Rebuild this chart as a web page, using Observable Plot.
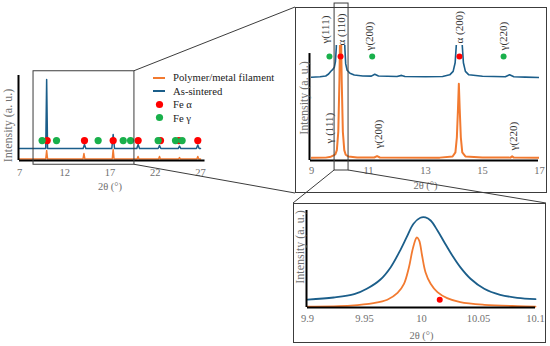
<!DOCTYPE html>
<html><head><meta charset="utf-8">
<script src="https://cdn.jsdelivr.net/npm/d3@7"></script>
<script src="https://cdn.jsdelivr.net/npm/@observablehq/plot@0.6"></script>
<style>
html,body{margin:0;padding:0;background:#fff;}
#fig{position:relative;width:550px;height:346px;overflow:hidden;background:#fff;font-family:"Liberation Serif","Times New Roman",serif;}
#legend{position:absolute;left:150px;top:71px;font-size:10.7px;color:#222;line-height:1;}
#legend .row{display:flex;align-items:center;height:13.4px;white-space:nowrap;}
#legend .sw{width:18px;height:13px;display:flex;justify-content:center;align-items:center;margin-right:5px;}
</style></head><body><div id="fig"></div>
<script>
// ---------- data ----------
const overviewTicks = [7, 12, 17, 22, 27];
const detailTicks = [9, 11, 13, 15, 17];
const zoomTicks = [9.9, 9.95, 10, 10.05, 10.1];

const legendLabels = ["Polymer/metal filament", "As-sintered", "Fe α", "Fe γ"];
const axisTitle = "2θ (°)";
const intensityTitle = "Intensity (a. u.)";

// overview panel: [2θ, intensity]
const ovFilament = [[7,1.8],[9.9,1.8],[10.0,11.8],[10.1,1.8],[14.02,1.8],[14.12,8.2],[14.22,1.8],[17.25,1.8],[17.35,12.9],[17.45,1.8],[20.0,1.8],[20.1,4.7],[20.2,1.8],[22.37,1.8],[22.47,4.7],[22.57,1.8],[24.58,1.8],[24.68,3.5],[24.78,1.8],[26.6,1.8],[26.7,4.7],[26.8,1.8],[27,1.8]];
const ovSintered = [[7,14.1],[9.9,14.1],[10.0,95.3],[10.1,14.1],[14.03,14.1],[14.18,18.8],[14.33,14.1],[17.2,14.1],[17.35,30.6],[17.5,14.1],[19.96,14.1],[20.11,18.8],[20.26,14.1],[22.32,14.1],[22.47,17.6],[22.62,14.1],[24.53,14.1],[24.68,17],[24.83,14.1],[26.55,14.1],[26.7,18.2],[26.85,14.1],[27,14.1]];
const ovAlpha = [10.06, 14.18, 17.35, 20.11, 22.58, 24.61, 26.7];
const ovGamma = [9.5, 11.09, 15.69, 18.46, 19.27, 22.32, 24.24, 24.97];
const ovMarkerLevel = 23.5;
const ovZoomBox = {x1: 8.55, x2: 19.7, y1: -5, y2: 105};

// detail panel 9–17°
const dtFilament = [[9.0,2.3],[9.5,2.5],[9.68,3.3],[9.78,4.5],[9.84,5.5],[9.89,9],[9.94,25],[9.98,70],[10.02,140],[10.06,70],[10.1,25],[10.15,9],[10.2,5],[10.3,3.4],[10.6,2.7],[11.2,2.6],[11.3,3.8],[11.4,2.6],[13.5,2.5],[13.95,3.5],[14.05,7],[14.1,20],[14.14,45],[14.17,66.7],[14.2,45],[14.24,20],[14.29,7],[14.4,3.5],[15.0,2.6],[15.98,2.5],[16.04,3.6],[16.1,2.5],[17.0,2.3]];
const dtSintered = [[9.0,72.4],[9.3,72.8],[9.5,73.5],[9.6,75.2],[9.68,77.6],[9.74,79],[9.8,81],[9.84,86],[9.87,98],[9.89,120],[10.02,170],[10.15,120],[10.17,98],[10.2,84],[10.25,78.5],[10.35,75.8],[10.5,74.3],[10.8,73.5],[11.1,73.4],[11.22,75],[11.35,73.5],[12.0,73.1],[12.16,74],[12.28,73],[13.0,72.8],[13.6,73],[13.85,74.5],[13.97,77.5],[14.04,85],[14.08,100],[14.19,150],[14.29,100],[14.33,85],[14.4,77.5],[14.52,74.5],[15.0,73.2],[15.8,72.8],[15.95,74.5],[16.1,72.8],[16.5,72.5],[17.0,72.2]];
const dtAlpha = [10.02, 14.19];
const dtGamma = [9.63, 11.13, 15.74];
const dtMarkerLevel = 90.4;
const dtAxisTop = 93;
const dtZoomBox = {x1: 9.81, x2: 10.3, y1: -8.7, y2: 136.5};
const dtLabels = [
  {x: 9.49, y: 101.7, t: "γ(111)"},
  {x: 10.05, y: 100, t: "α (110)"},
  {x: 11.04, y: 95.7, t: "γ(200)"},
  {x: 14.19, y: 101.7, t: "α (200)"},
  {x: 15.74, y: 95.7, t: "γ(220)"},
  {x: 9.63, y: 14.8, t: "γ (111)"},
  {x: 11.35, y: 10.4, t: "γ(200)"},
  {x: 16.09, y: 8.7, t: "γ(220)"}
];

// zoom panel 9.9–10.1°
const zmSintered = [[9.9,8.2],[9.923,10.3],[9.941,13.7],[9.952,19.3],[9.964,28.9],[9.973,41.6],[9.982,60.5],[9.987,72.5],[9.993,86.3],[9.999,92.5],[10.0035,92.8],[10.008,89.7],[10.014,79.4],[10.02,67.3],[10.027,53.6],[10.034,41.6],[10.043,29.6],[10.055,19.3],[10.069,13.1],[10.084,10],[10.1,8.6]];
const zmFilament = [[9.9,1],[9.938,2],[9.958,4.5],[9.97,8],[9.979,15],[9.9845,24],[9.989,41.5],[9.992,58.8],[9.995,70.8],[9.996,72.2],[9.998,69],[10.0005,53.6],[10.0035,36.4],[10.008,24.4],[10.014,15.8],[10.0225,9.6],[10.034,5.5],[10.055,2.8],[10.084,1.4],[10.1,1]];
const zmAlpha = [{x: 10.016, y: 8}];

// ---------- style ----------
const font = '"Liberation Serif","Times New Roman",serif';
const C = {filament: "#f27a30", sintered: "#1b5e8a", alpha: "#ff0000", gamma: "#19b04b", text: "#707070", label: "#333", box: "#3c3c3c"};
const fx = d => d[0], fy = d => d[1];
const baseStyle = {fontFamily: font, fontSize: "10.5px", color: C.text, background: "transparent", overflow: "visible"};

const fig = document.getElementById("fig");
function place(svg, L) {
  svg.style.position = "absolute";
  svg.style.left = L.left + "px";
  svg.style.top = L.top + "px";
  fig.appendChild(svg);
  return svg;
}
function xAxis(ticks, pad) {
  return Plot.axisX({ticks, tickSize: 0, tickPadding: pad, tickFormat: d => String(d), label: null, fontFamily: font, fontSize: 10.5, fill: C.text});
}
function yTitle(dx, dy) {
  return Plot.text([intensityTitle], {text: d => d, frameAnchor: "left", textAnchor: "middle", lineAnchor: "middle", rotate: -90, dx, dy, fontSize: 12, fontFamily: font, fill: C.text});
}
function xTitle(dy) {
  return Plot.text([axisTitle], {text: d => d, frameAnchor: "bottom", textAnchor: "middle", lineAnchor: "middle", dy, fontSize: 10.5, fontFamily: font, fill: C.text});
}

// ---------- panel 1: overview ----------
const L1 = {left: 0, top: 40, width: 215, height: 155};
const p1 = Plot.plot({
  width: L1.width, height: L1.height,
  marginLeft: 19, marginRight: 15, marginTop: 35, marginBottom: 35,
  style: baseStyle,
  x: {domain: [7, 27]},
  y: {domain: [0, 100], axis: null},
  marks: [
    Plot.line(ovFilament, {x: fx, y: fy, stroke: C.filament, strokeWidth: 1.5}),
    Plot.line(ovSintered, {x: fx, y: fy, stroke: C.sintered, strokeWidth: 1.5}),
    Plot.dot(ovAlpha, {x: d => d, y: ovMarkerLevel, r: 3.6, fill: C.alpha}),
    Plot.dot(ovGamma, {x: d => d, y: ovMarkerLevel, r: 3.6, fill: C.gamma}),
    Plot.ruleY([0], {x1: 7, x2: 27.5, stroke: "#000", strokeWidth: 2}),
    Plot.ruleX([7], {y1: 0, y2: 100, dx: -1, stroke: "#000", strokeWidth: 2}),
    Plot.rect([ovZoomBox], {x1: "x1", x2: "x2", y1: "y1", y2: "y2", fill: "none", stroke: C.box, strokeWidth: 1}),
    xAxis(overviewTicks, 8),
    yTitle(-11, 7.5),
    xTitle(26)
  ]
});
place(p1, L1);

// ---------- panel 2: detail ----------
const L2 = {left: 295, top: 7, width: 252, height: 186};
const p2 = Plot.plot({
  width: L2.width, height: L2.height,
  marginLeft: 16, marginRight: 8, marginTop: 38, marginBottom: 33,
  style: baseStyle,
  x: {domain: [9, 17]},
  y: {domain: [0, 100], axis: null},
  marks: [
    Plot.line(dtFilament, {x: fx, y: fy, stroke: C.filament, strokeWidth: 2, clip: true}),
    Plot.line(dtSintered, {x: fx, y: fy, stroke: C.sintered, strokeWidth: 1.6, clip: true}),
    Plot.dot(dtGamma, {x: d => d, y: dtMarkerLevel, r: 3, fill: C.gamma}),
    Plot.dot(dtAlpha, {x: d => d, y: dtMarkerLevel, r: 3, fill: C.alpha}),
    Plot.text(dtLabels, {x: "x", y: "y", text: "t", rotate: -90, textAnchor: "start", lineAnchor: "middle", fontSize: 11, fontFamily: font, fill: C.label}),
    Plot.ruleY([0], {x1: 9, x2: 17, dx: -1, stroke: "#000", strokeWidth: 2}),
    Plot.ruleX([9], {y1: 0, y2: dtAxisTop, dx: -2, stroke: "#000", strokeWidth: 2}),
    Plot.rect([dtZoomBox], {x1: "x1", x2: "x2", y1: "y1", y2: "y2", fill: "none", stroke: C.box, strokeWidth: 1}),
    xAxis(detailTicks, 6),
    yTitle(-7, -5),
    xTitle(25)
  ]
});
place(p2, L2);

// ---------- panel 3: zoom ----------
const L3 = {left: 293, top: 203, width: 253, height: 140};
const p3 = Plot.plot({
  width: L3.width, height: L3.height,
  marginLeft: 14, marginRight: 11, marginTop: 7, marginBottom: 36,
  style: baseStyle,
  x: {domain: [9.9, 10.1]},
  y: {domain: [0, 100], axis: null},
  marks: [
    Plot.line(zmSintered, {x: fx, y: fy, stroke: C.sintered, strokeWidth: 1.8, curve: "catmull-rom"}),
    Plot.line(zmFilament, {x: fx, y: fy, stroke: C.filament, strokeWidth: 1.8, curve: "catmull-rom"}),
    Plot.dot(zmAlpha, {x: "x", y: "y", r: 3, fill: C.alpha}),
    Plot.ruleY([0], {x1: 9.9, x2: 10.1, stroke: "#000", strokeWidth: 2}),
    Plot.ruleX([9.9], {y1: 0, y2: 100, dx: -1, stroke: "#000", strokeWidth: 2}),
    xAxis(zoomTicks, 7),
    yTitle(-7, -12),
    xTitle(28)
  ]
});
place(p3, L3);

// ---------- legend ----------
const legend = document.createElement("div");
legend.id = "legend";
const swatches = [
  `<svg width="14" height="4"><line x1="1" x2="13" y1="2" y2="2" stroke="${C.filament}" stroke-width="2"/></svg>`,
  `<svg width="14" height="4"><line x1="1" x2="13" y1="2" y2="2" stroke="${C.sintered}" stroke-width="2"/></svg>`,
  `<svg width="9" height="9"><circle cx="4.5" cy="4.5" r="3.6" fill="${C.alpha}"/></svg>`,
  `<svg width="9" height="9"><circle cx="4.5" cy="4.5" r="3.6" fill="${C.gamma}"/></svg>`
];
legendLabels.forEach((lab, i) => {
  const row = document.createElement("div");
  row.className = "row";
  row.innerHTML = `<span class="sw">${swatches[i]}</span><span>${lab}</span>`;
  legend.appendChild(row);
});
fig.appendChild(legend);

// ---------- frames and connector lines (from the plots' scales) ----------
const ov = d3.select(fig).append("svg")
  .attr("width", 550).attr("height", 346)
  .style("position", "absolute").style("left", "0px").style("top", "0px")
  .style("pointer-events", "none");
function pg(plot, L, x, y) {
  return [L.left + plot.scale("x").apply(x), L.top + plot.scale("y").apply(y)];
}
for (const L of [L2, L3]) {
  ov.append("rect").attr("x", L.left + 0.5).attr("y", L.top + 0.5)
    .attr("width", L.width - 1).attr("height", L.height - 1)
    .attr("fill", "none").attr("stroke", C.box).attr("stroke-width", 1);
}
const a1 = pg(p1, L1, ovZoomBox.x2, ovZoomBox.y2);
const b1 = pg(p1, L1, ovZoomBox.x2, ovZoomBox.y1);
const a2 = pg(p2, L2, dtZoomBox.x1, dtZoomBox.y1);
const b2 = pg(p2, L2, dtZoomBox.x2, dtZoomBox.y1);
const connectors = [
  [a1, [L2.left, L2.top]],
  [b1, [L2.left, L2.top + L2.height]],
  [a2, [L3.left, L3.top]],
  [b2, [L3.left + L3.width, L3.top]]
];
for (const [s, e] of connectors) {
  ov.append("line").attr("x1", s[0]).attr("y1", s[1]).attr("x2", e[0]).attr("y2", e[1])
    .attr("stroke", C.box).attr("stroke-width", 1);
}
</script>
</body></html>
